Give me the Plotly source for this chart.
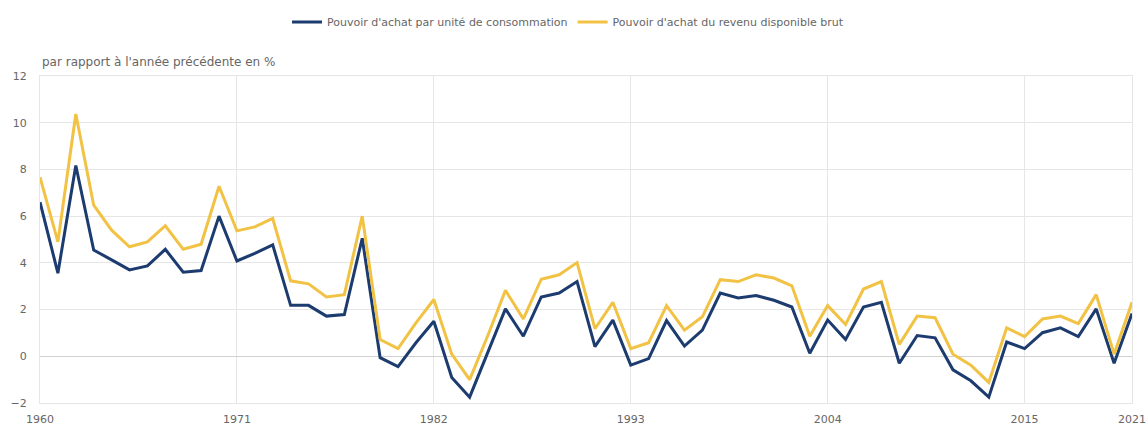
import plotly.graph_objects as go

years = list(range(1960, 2022))

pouvoir_uc = [6.6, 3.56, 8.17, 4.55, 4.13, 3.7, 3.87, 4.58, 3.6, 3.67,
              6.0, 4.08, 4.41, 4.77, 2.18, 2.18, 1.72, 1.79, 5.05, -0.06,
              -0.44, 0.58, 1.5, -0.91, -1.75, 0.16, 2.03, 0.86, 2.54, 2.71,
              3.2, 0.41, 1.55, -0.38, -0.1, 1.53, 0.44, 1.12, 2.71, 2.5,
              2.6, 2.4, 2.11, 0.13, 1.55, 0.72, 2.11, 2.31, -0.3, 0.89,
              0.79, -0.58, -1.05, -1.75, 0.61, 0.33, 1.01, 1.22, 0.84, 2.03,
              -0.3, 1.83]

pouvoir_rdb = [7.67, 4.9, 10.37, 6.47, 5.4, 4.69, 4.9, 5.59, 4.58, 4.8,
               7.28, 5.37, 5.54, 5.9, 3.23, 3.1, 2.54, 2.64, 6.0, 0.72,
               0.33, 1.43, 2.43, 0.09, -1.0, 0.86, 2.82, 1.6, 3.3, 3.49,
               4.01, 1.18, 2.31, 0.33, 0.58, 2.17, 1.12, 1.69, 3.28, 3.2,
               3.49, 3.35, 3.02, 0.86, 2.17, 1.36, 2.88, 3.2, 0.51, 1.72,
               1.65, 0.09, -0.38, -1.12, 1.22, 0.84, 1.6, 1.72, 1.4, 2.64,
               0.09, 2.31]

x_ticks = [1960, 1971, 1982, 1993, 2004, 2015, 2021]
y_ticks = [-2, 0, 2, 4, 6, 8, 10, 12]

name_uc = "Pouvoir d'achat par unité de consommation"
name_rdb = "Pouvoir d'achat du revenu disponible brut"
y_title = "par rapport à l'année précédente en %"

blue = "#1c3b6f"
gold = "#f1c244"
font_fam = "DejaVu Sans, Verdana, sans-serif"
txt = "#666666"
grid = "#e6e6e6"

fig = go.Figure()
fig.add_trace(go.Scatter(x=years, y=pouvoir_uc, mode="lines", name=name_uc,
                         line=dict(color=blue, width=3)))
fig.add_trace(go.Scatter(x=years, y=pouvoir_rdb, mode="lines", name=name_rdb,
                         line=dict(color=gold, width=3)))

fig.update_layout(
    width=1148, height=430,
    margin=dict(l=40, r=16, t=76, b=27, autoexpand=False),
    paper_bgcolor="white", plot_bgcolor="white",
    font=dict(family=font_fam, size=10, color=txt),
    showlegend=True,
    legend=dict(orientation="h", x=0.4835, xanchor="center",
                yref="container", y=0.949, yanchor="middle",
                font=dict(size=11, color=txt), itemwidth=30,
                traceorder="normal"),
    xaxis=dict(range=[1960, 2021], tickvals=x_ticks, ticktext=[str(v) for v in x_ticks],
               showgrid=True, gridcolor=grid, gridwidth=1,
               zeroline=False, showline=True, linecolor=grid, mirror=True,
               ticks="", ticklabelstandoff=6, tickfont=dict(size=11, color=txt)),
    yaxis=dict(range=[-2, 12], tickvals=y_ticks,
               showgrid=True, gridcolor=grid, gridwidth=1,
               zeroline=True, zerolinecolor="#d0d0d0", zerolinewidth=1,
               showline=True, linecolor=grid, mirror=True,
               ticks="", ticklabelstandoff=10,
               tickfont=dict(size=11, color=txt)),
    annotations=[dict(text=y_title, xref="paper", yref="paper", x=0, y=1.043,
                      xanchor="left", yanchor="middle", showarrow=False,
                      xshift=0, font=dict(size=12, color=txt))],
)

fig.write_html("out.html", config={"displayModeBar": False},
               post_script="document.body.style.margin='0';document.body.style.overflow='hidden';")
